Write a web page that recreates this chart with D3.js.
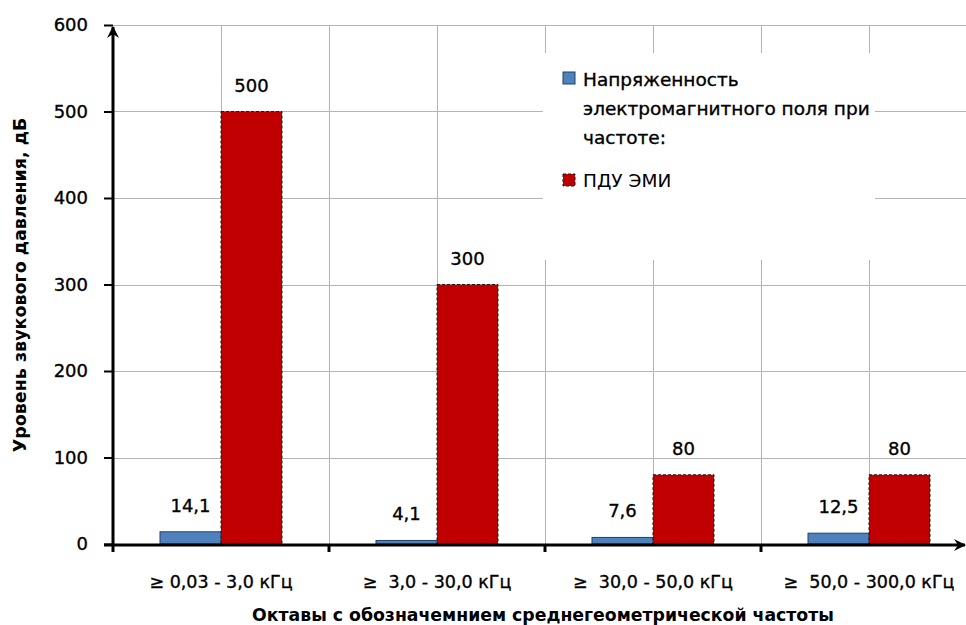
<!DOCTYPE html>
<html>
<head>
<meta charset="utf-8">
<script src="https://cdn.jsdelivr.net/npm/d3@7"></script>
<style>
  html, body { margin: 0; padding: 0; background: #fff; }
  svg { display: block; }
  text { font-family: "DejaVu Sans", "Liberation Sans", sans-serif; fill: #000; }
  .med { stroke: #000; stroke-width: 0.35px; }
</style>
</head>
<body>
<svg id="chart" width="966" height="625"></svg>
<script>
// Frequency bands and measured values
const categories = ["≥ 0,03 - 3,0 кГц", "≥  3,0 - 30,0 кГц", "≥  30,0 - 50,0 кГц", "≥  50,0 - 300,0 кГц"];
const seriesNames = ["Напряженность электромагнитного поля при частоте:", "ПДУ ЭМИ"];
const fieldStrength = [14.1, 4.1, 7.6, 12.5];
const limitValues = [500, 300, 80, 80];
const yTicks = [0, 100, 200, 300, 400, 500, 600];
const yTitle = "Уровень звукового давления, дБ";
const xTitle = "Октавы с обозначемнием среднегеометрической частоты";

const fmt = v => String(v).replace(".", ",");

const svg = d3.select("#chart");
const plotL = 113, plotR = 977, plotT = 25, plotB = 544;

const x = d3.scaleBand().domain(categories).range([plotL, plotR]).padding(0);
const barW = 61;
const x1 = d3.scaleBand().domain(seriesNames).range([0, barW * 2]).padding(0);
const y = d3.scaleLinear().domain([0, 600]).range([plotB, plotT]);

const rows = categories.map((c, i) => ({ cat: c, vals: [fieldStrength[i], limitValues[i]] }));

// Gridlines
const grid = svg.append("g").attr("stroke", "#b4b4b4").attr("stroke-width", 1);
yTicks.filter(t => t > 0).forEach(t => {
  grid.append("line").attr("x1", plotL).attr("x2", 966)
    .attr("y1", Math.round(y(t)) + 0.5).attr("y2", Math.round(y(t)) + 0.5);
});
const vLines = [];
categories.forEach(c => {
  vLines.push(x(c) + x.bandwidth() / 2);
  if (x(c) > plotL) vLines.push(x(c));
});
vLines.forEach(v => {
  grid.append("line").attr("x1", Math.round(v) + 0.5).attr("x2", Math.round(v) + 0.5)
    .attr("y1", plotT).attr("y2", plotB);
});

// Legend background covers the grid
svg.append("rect").attr("x", 543).attr("y", 53).attr("width", 332).attr("height", 207).attr("fill", "#fff");

// Bars
const colors = ["#4f81bd", "#c00000"];
const groups = svg.append("g").selectAll("g").data(rows).join("g")
  .attr("transform", d => `translate(${x(d.cat) + x.bandwidth() / 2 - barW},0)`);

groups.selectAll("rect").data(d => d.vals.map((v, i) => ({ v, i }))).join("rect")
  .attr("x", d => x1(seriesNames[d.i]))
  .attr("y", d => y(d.v))
  .attr("width", x1.bandwidth())
  .attr("height", d => y(0) - y(d.v))
  .attr("fill", d => colors[d.i])
  .attr("stroke", d => d.i === 0 ? "#24406a" : "#1a1a1a")
  .attr("stroke-width", 1)
  .attr("stroke-dasharray", d => d.i === 1 ? "3,2" : null);

// Value labels
groups.selectAll("text.val").data(d => d.vals.map((v, i) => ({ v, i }))).join("text")
  .attr("class", "val med")
  .attr("x", d => x1(seriesNames[d.i]) + x1.bandwidth() / 2)
  .attr("y", d => y(d.v) - 20)
  .attr("text-anchor", "middle")
  .attr("font-size", 18)
  .text(d => fmt(d.v));

// Arrow marker
const defs = svg.append("defs");
defs.append("marker").attr("id", "arrow").attr("viewBox", "0 0 12 12")
  .attr("refX", 11).attr("refY", 6).attr("markerWidth", 12).attr("markerHeight", 12)
  .attr("markerUnits", "userSpaceOnUse").attr("orient", "auto")
  .append("path").attr("d", "M0,0 L12,6 L0,12 L4,6 Z").attr("fill", "#000");

// Y axis
const yAxis = svg.append("g").attr("transform", `translate(${plotL},0)`)
  .call(d3.axisLeft(y).tickValues(yTicks).tickSize(9).tickPadding(16).tickFormat(d3.format("d")));
yAxis.select(".domain").remove();
yAxis.selectAll(".tick line").attr("stroke", "#000").attr("stroke-width", 2);
yAxis.selectAll(".tick text").attr("class", "med").attr("font-size", 18)
  .attr("font-family", "DejaVu Sans").attr("fill", "#000");
svg.append("line").attr("x1", plotL).attr("x2", plotL).attr("y1", plotB + 2).attr("y2", plotT + 2)
  .attr("stroke", "#000").attr("stroke-width", 3).attr("marker-end", "url(#arrow)");

// X axis
const xAxis = svg.append("g").attr("transform", `translate(0,${plotB + 1})`)
  .call(d3.axisBottom(x).tickSize(0).tickPadding(31));
xAxis.select(".domain").remove();
xAxis.selectAll(".tick text").attr("class", "med").attr("font-size", 17.5)
  .attr("font-family", "DejaVu Sans").attr("fill", "#000").style("white-space", "pre");
categories.forEach(c => {
  svg.append("line").attr("x1", x(c)).attr("x2", x(c)).attr("y1", plotB).attr("y2", plotB + 8)
    .attr("stroke", "#000").attr("stroke-width", 3);
});
svg.append("line").attr("x1", 104).attr("x2", 965).attr("y1", plotB + 1).attr("y2", plotB + 1)
  .attr("stroke", "#000").attr("stroke-width", 3).attr("marker-end", "url(#arrow)");

// Axis titles
svg.append("text").attr("transform", "translate(26,285) rotate(-90)")
  .attr("text-anchor", "middle").attr("font-size", 17.5).attr("font-weight", "bold").text(yTitle);
svg.append("text").attr("x", 543).attr("y", 621)
  .attr("text-anchor", "middle").attr("font-size", 17.3).attr("font-weight", "bold").text(xTitle);

// Legend
const lg = svg.append("g");
lg.append("rect").attr("x", 563).attr("y", 72).attr("width", 12).attr("height", 12)
  .attr("fill", colors[0]).attr("stroke", "#24406a");
lg.append("rect").attr("x", 563).attr("y", 174).attr("width", 12).attr("height", 12)
  .attr("fill", colors[1]).attr("stroke", "#1a1a1a").attr("stroke-dasharray", "3,2");
const legendLines = ["Напряженность", "электромагнитного поля при", "частоте:"];
legendLines.forEach((t, i) => {
  lg.append("text").attr("class", "med").attr("x", 583).attr("y", 86 + i * 29)
    .attr("font-size", 18.5).text(t);
});
lg.append("text").attr("x", 583).attr("y", 187).attr("font-size", 18.5).text(seriesNames[1]);
</script>
</body>
</html>
